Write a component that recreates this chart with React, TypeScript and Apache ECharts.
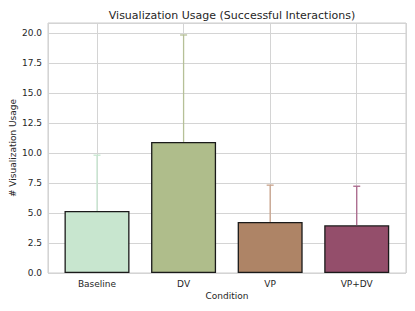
import React, { useEffect, useRef } from "react";
import * as echarts from "echarts";

const categories = ["Baseline", "DV", "VP", "VP+DV"];
const means = [5.18, 10.94, 4.26, 3.98];
const upperErrors = [9.83, 19.86, 7.33, 7.24];
const barColors = ["#c8e6cf", "#afbd8b", "#ae8466", "#944e6b"];
const errColors = ["#c6e6cf", "#b6c097", "#c9a38b", "#a9668a"];
const yTicks = [0, 2.5, 5, 7.5, 10, 12.5, 15, 17.5, 20];

export default function App() {
  const ref = useRef<HTMLDivElement>(null);
  useEffect(() => {
    if (!ref.current) return;
    const chart = echarts.init(ref.current, undefined, { renderer: "svg" });
    const font = "DejaVu Sans";
    const txt = "#262626";
    chart.setOption({
      animation: false,
      title: {
        text: "Visualization Usage (Successful Interactions)",
        left: 227,
        top: 5,
        textAlign: "center",
        textStyle: { fontFamily: font, fontSize: 11, fontWeight: "normal", color: txt },
      },
      grid: {
        left: 48,
        right: 9,
        top: 23,
        bottom: 38,
        containLabel: false,
        outerBoundsMode: "none",
        show: true,
        borderColor: "#cccccc",
        borderWidth: 1,
        backgroundColor: "#ffffff",
      },
      xAxis: {
        type: "value",
        min: -0.566,
        max: 3.569,
        minInterval: 1,
        maxInterval: 1,
        name: "Condition",
        nameLocation: "middle",
        nameGap: 18,
        nameMoveOverlap: false,
        nameTextStyle: { fontFamily: font, fontSize: 9, color: txt },
        axisLine: { show: false },
        axisTick: { show: false },
        axisLabel: {
          fontFamily: font,
          fontSize: 9,
          color: txt,
          margin: 6,
          formatter: (v: number) =>
            Number.isInteger(v) && v >= 0 && v < categories.length ? categories[v] : "",
        },
        splitLine: { show: true, lineStyle: { color: "#d4d4d4", width: 1 } },
      },
      yAxis: {
        type: "value",
        min: 0,
        max: 20.86,
        interval: 2.5,
        name: "# Visualization Usage",
        nameLocation: "middle",
        nameGap: 31,
        nameMoveOverlap: false,
        nameTextStyle: { fontFamily: font, fontSize: 9, color: txt },
        axisLine: { show: false },
        axisTick: { show: false },
        axisLabel: {
          fontFamily: font,
          fontSize: 9,
          color: txt,
          margin: 6,
          formatter: (v: number) => (yTicks.includes(v) ? v.toFixed(1) : ""),
        },
        splitLine: { show: true, lineStyle: { color: "#d4d4d4", width: 1 } },
      },
      series: [
        {
          type: "bar",
          barWidth: 65,
          z: 3,
          data: means.map((m, i) => ({
            value: [i, m],
            itemStyle: { color: barColors[i], borderColor: "#1a1a1a", borderWidth: 1.3 },
          })),
        },
        {
          type: "custom",
          z: 4,
          data: means.map((m, i) => [i, m, upperErrors[i]]),
          renderItem: (params: any, api: any) => {
            const i = params.dataIndex;
            const x = api.value(0);
            const lo = api.coord([x, api.value(1)]);
            const hi = api.coord([x, api.value(2)]);
            const style = { stroke: errColors[i], lineWidth: 1.3 };
            return {
              type: "group",
              children: [
                { type: "line", shape: { x1: lo[0], y1: lo[1], x2: hi[0], y2: hi[1] }, style },
                { type: "line", shape: { x1: hi[0] - 3.5, y1: hi[1], x2: hi[0] + 3.5, y2: hi[1] }, style },
              ],
            };
          },
        },
      ],
    });
    return () => chart.dispose();
  }, []);
  return <div ref={ref} style={{ width: 415, height: 311, position: "absolute", left: 0, top: 0 }} />;
}
